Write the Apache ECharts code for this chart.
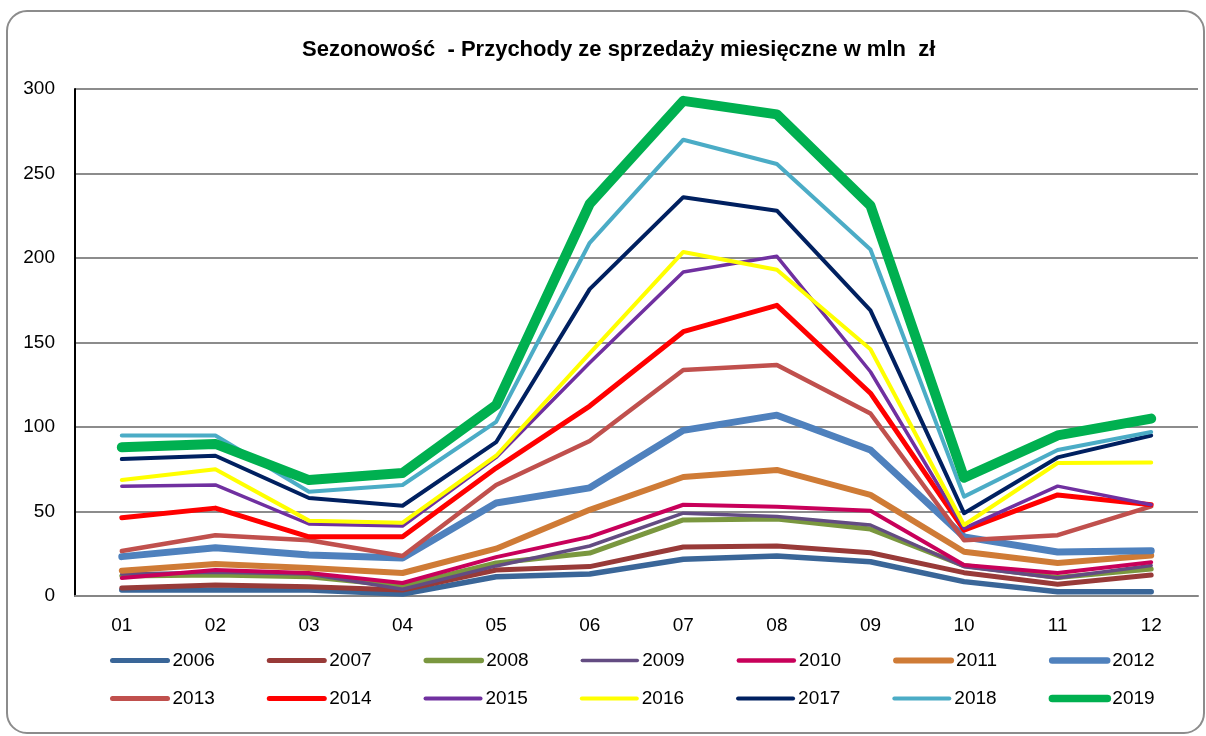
<!DOCTYPE html>
<html>
<head>
<meta charset="utf-8">
<script src="https://cdn.jsdelivr.net/npm/echarts@6/dist/echarts.min.js"></script>
<style>
  html, body { margin: 0; padding: 0; background: #fff; }
  #chart { width: 1206px; height: 736px; }
</style>
</head>
<body>
<div id="chart"></div>
<script>
// miesiące
const months = ['01', '02', '03', '04', '05', '06', '07', '08', '09', '10', '11', '12'];
const yTicks = [0, 50, 100, 150, 200, 250, 300];

// przychody w mln zł
const y2006 = [3.5, 3.5, 3.5, 1.2, 11.4, 13, 21.7, 23.7, 20.3, 8.5, 2.5, 2.5];
const y2007 = [4.7, 6.5, 5.5, 3.5, 15.4, 17.4, 29, 29.6, 25.6, 13.8, 7, 12.4];
const y2008 = [11.8, 12.4, 11.4, 5.9, 19.5, 25.4, 45, 45.5, 39.6, 18, 11, 16];
const y2009 = [13, 14, 13, 4, 17.8, 29.6, 49, 47, 42, 17.3, 10.6, 18];
const y2010 = [10.6, 15.4, 13.6, 7.7, 23, 35, 54, 52.8, 50.5, 18.3, 13.6, 20];
const y2011 = [15, 19, 16.5, 13.6, 28, 51, 70.4, 74.6, 59.8, 26.2, 19.5, 24];
const y2012 = [23.3, 28.6, 24.3, 22.5, 55, 64, 98, 107, 86.4, 35, 26, 26.8];
const y2013 = [26.6, 36, 33, 23.7, 65.7, 91.7, 133.7, 136.7, 108, 33, 36, 53];
const y2014 = [46.3, 52, 35, 35, 75.7, 112.4, 156.4, 172, 120, 39, 59.8, 54];
const y2015 = [65, 65.7, 42.6, 41.4, 82, 138, 191.7, 201, 132.7, 40, 65, 54];
const y2016 = [68.6, 75, 44.6, 43.4, 83, 143.6, 203.6, 193, 146, 42, 78.7, 79];
const y2017 = [81, 83, 58, 53.4, 91, 181.6, 236, 228, 169, 49, 82, 95];
const y2018 = [95, 95, 61.7, 65.7, 103, 209, 270, 255.6, 205, 58.8, 86.4, 97];
const y2019 = [88, 90, 68.6, 72.8, 113, 232, 293, 285, 231, 70, 95, 105];

const years = ['2006', '2007', '2008', '2009', '2010', '2011', '2012',
               '2013', '2014', '2015', '2016', '2017', '2018', '2019'];
const values = [y2006, y2007, y2008, y2009, y2010, y2011, y2012,
                y2013, y2014, y2015, y2016, y2017, y2018, y2019];
const colors = ['#3a6698', '#983a38', '#7a973f', '#634c82', '#c8005a', '#cf7b36', '#4f81bd',
                '#c0504d', '#ff0000', '#7030a0', '#ffff00', '#002060', '#4bacc6', '#00b050'];
const widths = [5.5, 5, 5, 3.5, 4, 6, 7, 4.5, 5, 3.5, 4, 4, 4, 10];
const legendWidths = [5, 5, 5.5, 3.5, 4.5, 6, 6.5, 5, 5, 4, 4, 4, 4, 7.5];

const font = "'Liberation Sans', Arial, sans-serif";

const chart = echarts.init(document.getElementById('chart'));

function legendRow(from, to, top) {
    return {
        left: 105,
        top: top,
        itemWidth: 55,
        itemHeight: 8,
        itemGap: 52,
        itemStyle: { opacity: 0, borderWidth: 0 },
        textStyle: { fontFamily: font, fontSize: 19, color: '#000' },
        data: years.slice(from, to).map((name, k) => ({
            name: name,
            lineStyle: { width: legendWidths[from + k], cap: 'round' }
        }))
    };
}

chart.setOption({
    animation: false,
    backgroundColor: '#fff',
    title: {
        text: 'Sezonowość  - Przychody ze sprzedaży miesięczne w mln  zł',
        left: 297,
        top: 34,
        textStyle: { fontFamily: font, fontSize: 22, fontWeight: 'bold', color: '#000' }
    },
    graphic: [{
        type: 'rect',
        shape: { x: 7, y: 11, width: 1197, height: 722, r: 20 },
        style: { fill: 'none', stroke: '#8c8c8c', lineWidth: 2 },
        silent: true
    }],
    legend: [legendRow(0, 7, 646), legendRow(7, 14, 684)],
    grid: { left: 75, right: 8, top: 89, bottom: 140 },
    xAxis: {
        type: 'category',
        data: months,
        boundaryGap: true,
        axisLine: { lineStyle: { color: '#868686', width: 2 } },
        axisTick: { show: false },
        axisLabel: { margin: 20, fontFamily: font, fontSize: 19, color: '#000' }
    },
    yAxis: {
        type: 'value',
        min: yTicks[0],
        max: yTicks[yTicks.length - 1],
        interval: 50,
        axisLine: { show: true, lineStyle: { color: '#000', width: 2 } },
        axisTick: { show: false },
        axisLabel: { margin: 20, fontFamily: font, fontSize: 19, color: '#000' },
        splitLine: { lineStyle: { color: '#8c8c8c', width: 2 } }
    },
    series: years.map((name, i) => ({
        name: name,
        type: 'line',
        data: values[i],
        symbol: 'none',
        smooth: false,
        color: colors[i],
        lineStyle: { color: colors[i], width: widths[i], cap: 'round', join: 'round' }
    }))
});
</script>
</body>
</html>
